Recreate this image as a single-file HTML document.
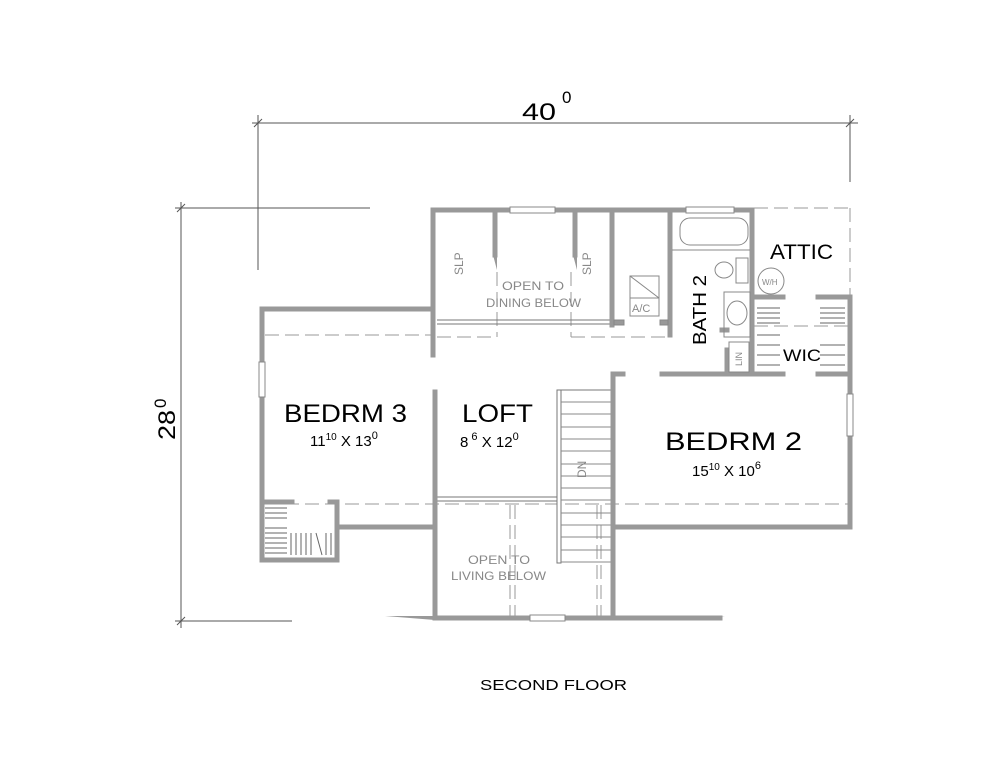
<!DOCTYPE html>
<html><head><meta charset="utf-8"><style>
html,body{margin:0;padding:0;background:#fff;}
svg{display:block;}
text{font-family:"Liberation Sans",Arial,sans-serif;}
</style></head><body>
<svg width="1000" height="772" viewBox="0 0 1000 772" xmlns="http://www.w3.org/2000/svg">
<g stroke="#555" stroke-width="1" fill="none">
<line x1="252" y1="123" x2="858" y2="123"/>
<line x1="258" y1="115" x2="258" y2="270"/>
<line x1="850" y1="115" x2="850" y2="182"/>
<line x1="254" y1="127" x2="262" y2="119"/>
<line x1="846" y1="127" x2="854" y2="119"/>
<line x1="181" y1="202" x2="181" y2="628"/>
<line x1="175" y1="208" x2="370" y2="208"/>
<line x1="175" y1="621" x2="292" y2="621"/>
<line x1="177" y1="212" x2="185" y2="204"/>
<line x1="177" y1="625" x2="185" y2="617"/>
</g>
<text x="522" y="120" font-size="24" textLength="34" lengthAdjust="spacingAndGlyphs">40</text><text x="562" y="103" font-size="17">0</text>
<text transform="translate(175,440) rotate(-90)" font-size="24" textLength="30" lengthAdjust="spacingAndGlyphs">28</text>
<text transform="translate(166,408) rotate(-90)" font-size="17">0</text>

<g stroke="#999" stroke-width="1" fill="none" stroke-dasharray="14,6">
<line x1="265" y1="335" x2="432" y2="335"/>
<line x1="437" y1="337" x2="497" y2="337"/>
<line x1="571" y1="337" x2="668" y2="337"/>
<line x1="497" y1="272" x2="497" y2="337"/>
<line x1="571" y1="272" x2="571" y2="337"/>
<line x1="265" y1="504" x2="848" y2="504"/>
<line x1="754" y1="208" x2="850" y2="208"/>
<line x1="850" y1="208" x2="850" y2="297"/>
<line x1="754" y1="326" x2="848" y2="326"/>
<line x1="510" y1="505" x2="510" y2="618"/>
<line x1="515" y1="505" x2="515" y2="618"/>
<line x1="597" y1="505" x2="597" y2="618"/>
<line x1="601" y1="505" x2="601" y2="618"/>
</g>
<g stroke="#777" stroke-width="1" fill="none">
<line x1="437" y1="320" x2="612" y2="320"/>
<line x1="437" y1="324" x2="612" y2="324"/>
<line x1="437" y1="497" x2="557" y2="497"/>
<line x1="437" y1="501" x2="557" y2="501"/>
<rect x="557" y="390" width="4" height="173" fill="#fff"/>
<line x1="561" y1="390" x2="611" y2="390"/>
</g>
<g stroke="#888" stroke-width="1">
<line x1="561" y1="402" x2="611" y2="402"/><line x1="561" y1="414" x2="611" y2="414"/>
<line x1="561" y1="427" x2="611" y2="427"/><line x1="561" y1="439" x2="611" y2="439"/>
<line x1="561" y1="451" x2="611" y2="451"/><line x1="561" y1="464" x2="611" y2="464"/>
<line x1="561" y1="476" x2="611" y2="476"/><line x1="561" y1="488" x2="611" y2="488"/>
<line x1="561" y1="500" x2="611" y2="500"/><line x1="561" y1="513" x2="611" y2="513"/>
<line x1="561" y1="525" x2="611" y2="525"/><line x1="561" y1="537" x2="611" y2="537"/>
<line x1="561" y1="550" x2="611" y2="550"/><line x1="561" y1="562" x2="611" y2="562"/>
</g>
<g stroke="#999" stroke-width="5" fill="none" stroke-linecap="square">
<polyline points="262,560 262,309 433,309"/>
<line x1="433" y1="210" x2="433" y2="355"/>
<line x1="433" y1="210" x2="752" y2="210"/>
<line x1="495" y1="210" x2="495" y2="255"/>
<line x1="575" y1="210" x2="575" y2="255"/>
<line x1="612" y1="210" x2="612" y2="325"/>
<line x1="670" y1="210" x2="670" y2="335"/>
<line x1="752" y1="210" x2="752" y2="297"/>
<line x1="752" y1="297" x2="783" y2="297"/>
<line x1="818" y1="297" x2="850" y2="297"/>
<line x1="850" y1="297" x2="850" y2="527"/>
<line x1="752" y1="297" x2="752" y2="373"/>
<line x1="662" y1="374" x2="783" y2="374"/>
<line x1="818" y1="374" x2="850" y2="374"/>
<line x1="613" y1="374" x2="623" y2="374"/>
<line x1="613" y1="374" x2="613" y2="618"/>
<line x1="613" y1="527" x2="850" y2="527"/>
<line x1="435" y1="392" x2="435" y2="618"/>
<line x1="337" y1="527" x2="435" y2="527"/>
<polyline points="262,560 337,560 337,502 330,502"/>
<line x1="262" y1="502" x2="292" y2="502"/>
<line x1="435" y1="618" x2="720" y2="618"/>
<line x1="727" y1="350" x2="727" y2="372"/>
<line x1="722" y1="330" x2="727" y2="330"/>
</g>
<polygon points="385,616 435,616 435,620" fill="#999"/>
<polygon points="690,616 725,616 690,620" fill="#999"/>
<polygon points="493,255 497,255 497,270" fill="#999"/>
<polygon points="573,255 577,255 577,270" fill="#999"/>
<g fill="#fff" stroke="#888" stroke-width="1">
<rect x="510" y="207" width="45" height="6"/>
<rect x="686" y="207" width="48" height="6"/>
<rect x="259" y="362" width="6" height="35"/>
<rect x="847" y="394" width="6" height="42"/>
<rect x="530" y="615" width="35" height="6"/>
</g>
<g stroke="#888" stroke-width="1" fill="none">
<rect x="680" y="218" width="68" height="27" rx="10"/>
<line x1="672" y1="250" x2="750" y2="250"/>
<ellipse cx="724" cy="270" rx="9" ry="8"/>
<rect x="736" y="258" width="12" height="25"/>
<rect x="724" y="292" width="26" height="45"/>
<ellipse cx="737" cy="313" rx="10" ry="12"/>
<rect x="729" y="342" width="20" height="30"/>
<circle cx="771" cy="281" r="13"/>
<rect x="630" y="276" width="29" height="40"/>
<line x1="630" y1="298" x2="659" y2="298"/>
<line x1="630" y1="276" x2="659" y2="298"/>
<rect x="614" y="320" width="10" height="5" fill="#999"/>
<rect x="660" y="320" width="8" height="5" fill="#999"/>
</g>
<g stroke="#666" stroke-width="1">
<line x1="757" y1="308" x2="780" y2="308"/><line x1="757" y1="313" x2="780" y2="313"/>
<line x1="757" y1="318" x2="780" y2="318"/><line x1="757" y1="323" x2="780" y2="323"/>
<line x1="757" y1="335" x2="780" y2="335"/><line x1="757" y1="345" x2="780" y2="345"/>
<line x1="757" y1="355" x2="780" y2="355"/><line x1="757" y1="365" x2="780" y2="365"/>
<line x1="820" y1="308" x2="845" y2="308"/><line x1="820" y1="313" x2="845" y2="313"/>
<line x1="820" y1="318" x2="845" y2="318"/><line x1="820" y1="323" x2="845" y2="323"/>
<line x1="820" y1="345" x2="845" y2="345"/><line x1="820" y1="355" x2="845" y2="355"/>
<line x1="820" y1="365" x2="845" y2="365"/>
<line x1="265" y1="508" x2="287" y2="508"/><line x1="265" y1="513" x2="287" y2="513"/>
<line x1="265" y1="518" x2="287" y2="518"/><line x1="265" y1="528" x2="287" y2="528"/>
<line x1="265" y1="533" x2="287" y2="533"/><line x1="265" y1="538" x2="287" y2="538"/>
<line x1="265" y1="543" x2="287" y2="543"/><line x1="265" y1="548" x2="287" y2="548"/>
<line x1="265" y1="553" x2="287" y2="553"/>
<line x1="291" y1="533" x2="291" y2="555"/><line x1="296" y1="533" x2="296" y2="555"/>
<line x1="301" y1="533" x2="301" y2="555"/><line x1="306" y1="533" x2="306" y2="555"/>
<line x1="311" y1="533" x2="311" y2="555"/><line x1="316" y1="533" x2="322" y2="555"/>
<line x1="326" y1="533" x2="326" y2="555"/><line x1="331" y1="533" x2="331" y2="555"/>
</g>
<g fill="#888" font-size="12">
<text x="502" y="290" textLength="62" lengthAdjust="spacingAndGlyphs">OPEN  TO</text>
<text x="486" y="307" textLength="95" lengthAdjust="spacingAndGlyphs">DINING  BELOW</text>
<text x="468" y="564" textLength="62" lengthAdjust="spacingAndGlyphs">OPEN  TO</text>
<text x="451" y="580" textLength="95" lengthAdjust="spacingAndGlyphs">LIVING  BELOW</text>
<text transform="translate(463,275) rotate(-90)" font-size="12">SLP</text>
<text transform="translate(591,275) rotate(-90)" font-size="12">SLP</text>
<text transform="translate(586,478) rotate(-90)" font-size="12">DN</text>
<text transform="translate(742,366) rotate(-90)" font-size="9">LIN</text>
<text x="632" y="312" font-size="11">A/C</text>
<text x="762" y="285" font-size="8">W/H</text>
</g>
<g fill="#000">
<text x="770" y="259" font-size="21" textLength="63" lengthAdjust="spacingAndGlyphs">ATTIC</text>
<text transform="translate(706,345) rotate(-90)" font-size="18" textLength="70" lengthAdjust="spacingAndGlyphs">BATH 2</text>
<text x="783" y="361" font-size="17" textLength="38" lengthAdjust="spacingAndGlyphs">WIC</text>
<text x="284" y="422" font-size="25" textLength="123" lengthAdjust="spacingAndGlyphs">BEDRM  3</text>
<text x="310" y="446" font-size="15">11<tspan font-size="10" dy="-6">10</tspan><tspan dy="6">  X  13</tspan><tspan font-size="11" dy="-7">0</tspan></text>
<text x="462" y="422" font-size="25" textLength="71" lengthAdjust="spacingAndGlyphs">LOFT</text>
<text x="460" y="447" font-size="15">8<tspan font-size="11" dy="-7"> 6</tspan><tspan dy="7">  X  12</tspan><tspan font-size="11" dy="-7">0</tspan></text>
<text x="665" y="450" font-size="25" textLength="137" lengthAdjust="spacingAndGlyphs">BEDRM  2</text>
<text x="692" y="476" font-size="15">15<tspan font-size="10" dy="-6">10</tspan><tspan dy="6">  X  10</tspan><tspan font-size="11" dy="-7">6</tspan></text>
<text x="480" y="690" font-size="15" textLength="147" lengthAdjust="spacingAndGlyphs">SECOND FLOOR</text>
</g>
</svg>
</body></html>
